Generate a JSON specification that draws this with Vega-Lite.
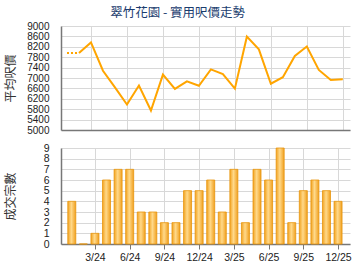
{
  "$schema": "https://vega.github.io/schema/vega-lite/v6.json",
  "padding": {"left": 3, "top": 6, "right": 0, "bottom": 0},
  "background": "white",
  "title": {"text": "翠竹花園 - 實用呎價走勢", "font": "Noto Sans CJK TC", "fontSize": 12.5, "fontWeight": "normal", "color": "#1a3c6e", "anchor": "middle", "offset": 2},
  "config": {
    "view": {"stroke": null},
    "axis": {"labelFont": "Liberation Sans", "labelFontSize": 10, "labelColor": "#222", "labelOverlap": false, "labelBound": false, "titleFont": "Noto Sans CJK TC", "titleFontSize": 12, "titleFontWeight": "normal", "titleColor": "#333", "gridColor": "#d8d8d8", "domainColor": "#777", "domainWidth": 1.5, "tickColor": "#777"}
  },
  "datasets": {
    "m": [
      {"idx": 0, "month": "1/24", "price": 7960, "deals": 4},
      {"idx": 1, "month": "2/24", "price": 7960, "deals": 0},
      {"idx": 2, "month": "3/24", "price": 8370, "deals": 1},
      {"idx": 3, "month": "4/24", "price": 7280, "deals": 6},
      {"idx": 4, "month": "5/24", "price": 6640, "deals": 7},
      {"idx": 5, "month": "6/24", "price": 5980, "deals": 7},
      {"idx": 6, "month": "7/24", "price": 6710, "deals": 3},
      {"idx": 7, "month": "8/24", "price": 5750, "deals": 3},
      {"idx": 8, "month": "9/24", "price": 7130, "deals": 2},
      {"idx": 9, "month": "10/24", "price": 6580, "deals": 2},
      {"idx": 10, "month": "11/24", "price": 6870, "deals": 5},
      {"idx": 11, "month": "12/24", "price": 6700, "deals": 5},
      {"idx": 12, "month": "1/25", "price": 7330, "deals": 6},
      {"idx": 13, "month": "2/25", "price": 7150, "deals": 3},
      {"idx": 14, "month": "3/25", "price": 6590, "deals": 7},
      {"idx": 15, "month": "4/25", "price": 8590, "deals": 2},
      {"idx": 16, "month": "5/25", "price": 8100, "deals": 7},
      {"idx": 17, "month": "6/25", "price": 6780, "deals": 6},
      {"idx": 18, "month": "7/25", "price": 7030, "deals": 9},
      {"idx": 19, "month": "8/25", "price": 7850, "deals": 2},
      {"idx": 20, "month": "9/25", "price": 8210, "deals": 5},
      {"idx": 21, "month": "10/25", "price": 7310, "deals": 6},
      {"idx": 22, "month": "11/25", "price": 6920, "deals": 5},
      {"idx": 23, "month": "12/25", "price": 6950, "deals": 4}
    ]
  },
  "vconcat": [
    {
      "width": 289,
      "height": 104,
      "data": {"name": "m"},
      "encoding": {
        "x": {"field": "idx", "type": "quantitative", "scale": {"domain": [-0.5, 23.6], "nice": false, "zero": false},
          "axis": {"values": [2, 5, 8, 11, 14, 17, 20, 23], "labels": false, "ticks": false, "title": null, "grid": true}},
        "y": {"field": "price", "type": "quantitative", "scale": {"domain": [5000, 9000], "nice": false, "zero": false},
          "axis": {"values": [5000, 5400, 5800, 6200, 6600, 7000, 7400, 7800, 8200, 8600, 9000], "format": "d", "ticks": false, "labelPadding": 12, "title": "平均呎價", "titleX": -44, "grid": true}}
      },
      "layer": [
        {
          "transform": [{"filter": "datum.idx >= 1"}],
          "mark": {"type": "line", "color": "#ffa500", "strokeWidth": 2}
        },
        {
          "transform": [{"filter": "datum.idx <= 1"}],
          "mark": {"type": "line", "color": "#ffa500", "strokeWidth": 2, "strokeDash": [2, 2]}
        }
      ]
    },
    {
      "width": 289,
      "height": 96,
      "data": {"name": "m"},
      "mark": {"type": "bar", "width": 8, "stroke": "#e8960c", "strokeWidth": 0.8,
        "color": {"gradient": "linear", "x1": 0, "y1": 0, "x2": 1, "y2": 0,
          "stops": [{"offset": 0, "color": "#f2a321"}, {"offset": 0.45, "color": "#ffd98a"}, {"offset": 1, "color": "#f0a020"}]}},
      "encoding": {
        "x": {"field": "idx", "type": "quantitative", "scale": {"domain": [-0.5, 23.6], "nice": false, "zero": false},
          "axis": {"values": [2, 5, 8, 11, 14, 17, 20, 23], "labelExpr": "(datum.value % 12 + 1) + '/' + (24 + floor(datum.value / 12))", "ticks": true, "tickSize": 5, "labelPadding": 3, "labelFontSize": 10.5, "title": null, "grid": true}},
        "y": {"field": "deals", "type": "quantitative", "scale": {"domain": [0, 9], "nice": false},
          "axis": {"values": [0, 1, 2, 3, 4, 5, 6, 7, 8, 9], "ticks": false, "labelPadding": 12, "labelFontSize": 10.5, "title": "成交宗數", "titleX": -44, "grid": true}}
      }
    }
  ],
  "spacing": 8
}
